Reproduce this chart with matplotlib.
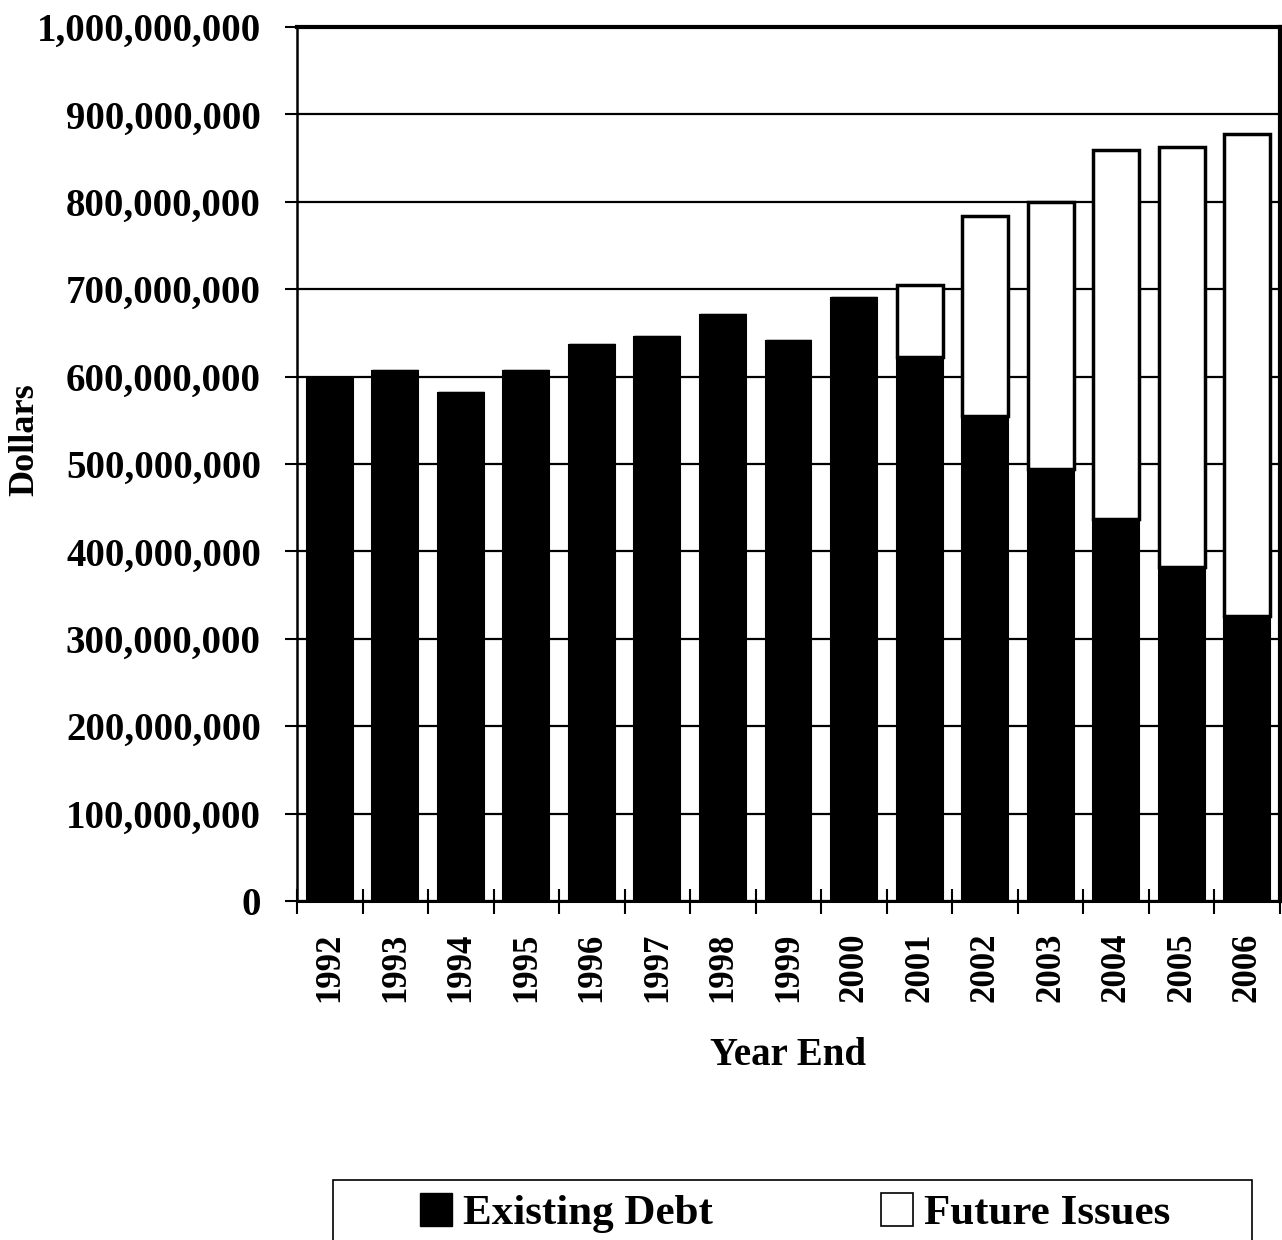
import matplotlib
matplotlib.use("Agg")
import matplotlib.pyplot as plt
from matplotlib.patches import Patch, Rectangle
import numpy as np

years = ["1992", "1993", "1994", "1995", "1996", "1997", "1998", "1999",
         "2000", "2001", "2002", "2003", "2004", "2005", "2006"]
existing_debt = [598e6, 606e6, 581e6, 606e6, 636e6, 645e6, 670e6, 641e6,
                 690e6, 622e6, 555e6, 494e6, 437e6, 382e6, 326e6]
total_outstanding = [598e6, 606e6, 581e6, 606e6, 636e6, 645e6, 670e6, 641e6,
                     690e6, 705e6, 784e6, 800e6, 859e6, 863e6, 878e6]
future_issues = [t - e for t, e in zip(total_outstanding, existing_debt)]

plt.rcParams["font.family"] = ["Liberation Serif", "DejaVu Serif"]
plt.rcParams["font.weight"] = "bold"

fig = plt.figure(figsize=(12.82, 12.40), dpi=100)
ax = fig.add_axes([297 / 1282, 1 - 901 / 1240, (1280 - 297) / 1282, (901 - 27) / 1240])

x = np.arange(len(years))
ax.set_axisbelow(True)
ax.bar(x, existing_debt, width=0.7, color="black", edgecolor="black", linewidth=1.5, zorder=2)
ax.bar(x, future_issues, bottom=existing_debt, width=0.7, color="white",
       edgecolor="black", linewidth=2.5, zorder=2)

ax.set_xlim(-0.5, len(years) - 0.5)
ax.set_ylim(0, 1e9)
ax.set_yticks(np.arange(0, 1.0001e9, 1e8))
ax.yaxis.set_major_formatter(matplotlib.ticker.FuncFormatter(lambda v, p: f"{int(round(v)):,}"))
ax.grid(axis="y", color="black", linewidth=1.6)
ax.tick_params(axis="y", length=9, width=1.5, labelsize=28, pad=17)

ax.set_xticks(x)
ax.set_xticklabels(years, rotation=90, fontsize=25, fontweight="bold")
ax.tick_params(axis="x", length=0, pad=23)
ax.set_xticks(np.arange(-0.5, len(years), 1.0), minor=True)
ax.tick_params(axis="x", which="minor", direction="inout", length=18, width=1.5)

for side in ["top", "right"]:
    ax.spines[side].set_linewidth(3)
ax.spines["left"].set_linewidth(1.8)
ax.spines["bottom"].set_linewidth(2.2)

for lab in ax.get_yticklabels():
    lab.set_fontweight("bold")

ax.set_xlabel("Year End", fontsize=28, fontweight="bold", labelpad=25)
fig.text(25 / 1282, 1 - 440 / 1240, "Dollars", rotation=90, ha="center", va="center",
         fontsize=26, fontweight="bold")

handles = [Patch(facecolor="black", edgecolor="black", label="Existing Debt"),
           Patch(facecolor="white", edgecolor="black", linewidth=1.2, label="Future Issues")]
leg = fig.legend(handles=handles, loc="center",
                 bbox_to_anchor=(795 / 1282, 1 - 1213 / 1240),
                 ncol=2, frameon=False,
                 prop={"size": 31, "weight": "bold", "family": ["Liberation Serif"]},
                 handlelength=0.75, handleheight=0.8, handletextpad=0.25,
                 columnspacing=3.9, borderpad=0.0, borderaxespad=0)

# legend box, open at the bottom edge of the figure
fig.patches.append(Rectangle((333 / 1282, -0.01), (1252 - 333) / 1282, 0.01 + (1240 - 1180) / 1240,
                             transform=fig.transFigure, fill=False, edgecolor="black",
                             linewidth=1.2))

fig.savefig("out.png", dpi=100)
